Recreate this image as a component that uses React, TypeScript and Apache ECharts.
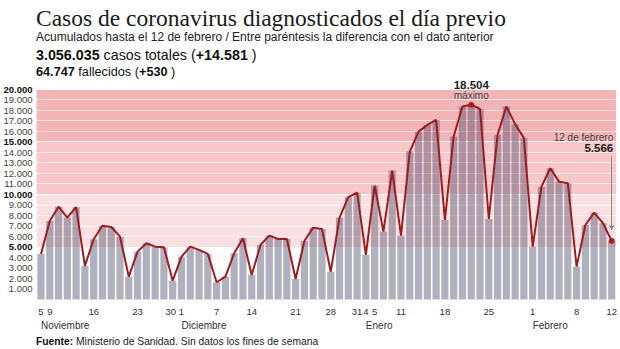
import React, { useEffect, useRef } from "react";
import * as echarts from "echarts";

// ---- data ----
const values = [
  4330, 7460, 8820, 7780, 8770, 3190, 5720, 7010, 6890, 5970,
  2170, 4550, 5340, 5020, 4960, 1790, 4070, 5020, 4710, 4330,
  1640, 2170, 4390, 5820, 2330, 5180, 6070, 5750, 5750, 1950,
  5560, 6830, 6700, 2640, 7780, 9720, 10150, 4230, 10820, 6450,
  12250, 6070, 14050, 15950, 16590, 17060, 7560, 15480, 18330, 18504,
  18110, 7650, 15640, 18330, 16660, 15330, 5020, 10720, 12470, 11200,
  11050, 3120, 7080, 8250, 7250, 5566,
];
const tickIndex = [0, 1, 6, 11, 15, 16, 20, 24, 29, 33, 36, 37, 38, 41, 46, 51, 56, 61, 65];
const tickText = ["5", "9", "16", "23", "30", "1", "7", "14", "21", "28", "31", "4", "5", "11", "18", "25", "1", "8", "12"];
const monthIndex = [0, 16, 37, 56];
const monthText = ["Noviembre", "Diciembre", "Enero", "Febrero"];
const yTicks = [0, 20000, 1000];
const totalCases = "3.056.035";
const totalCasesDiff = "+14.581";
const totalDeaths = "64.747";
const totalDeathsDiff = "+530";
const lastDateText = "12 de febrero";

const fmt = (v: number) => String(Math.round(v)).replace(/\B(?=(\d{3})+(?!\d))/g, ".");

const bandColors = [
  ...Array(5).fill("#ffffff"),
  ...Array(5).fill("#fbe0e1"),
  ...Array(5).fill("#f7c7c9"),
  ...Array(5).fill("#f3b4b6"),
];

export default function App() {
  const ref = useRef<HTMLDivElement>(null);
  useEffect(() => {
    const chart = echarts.init(ref.current!, null, { renderer: "svg" });
    const cats = values.map((_, i) => String(i));
    const lastIdx = values.length - 1;
    const tickMap: Record<number, string> = {};
    tickIndex.forEach((k, j) => (tickMap[k] = tickText[j]));
    const monthMap: Record<number, string> = {};
    monthIndex.forEach((k, j) => (monthMap[k] = monthText[j]));
    const sans = "Liberation Sans, Arial, sans-serif";

    chart.setOption({
      animation: false,
      grid: { left: 36.6, right: 3.3, top: 89, bottom: 49.5, containLabel: false },
      xAxis: [
        {
          type: "category",
          data: cats,
          boundaryGap: true,
          axisLine: { show: false },
          axisTick: { show: false },
          axisLabel: {
            interval: 0,
            margin: 7,
            fontSize: 9.5,
            fontFamily: sans,
            color: "#333",
            formatter: (_: string, i: number) => {
              const t = tickMap[i];
              if (t === undefined) return "";
              return i === 15 ? `{l|${t}}` : t;
            },
            rich: { l: { fontSize: 9.5, fontFamily: sans, color: "#333", padding: [0, 4, 0, 0] } },
          },
        },
        {
          type: "category",
          data: cats,
          position: "bottom",
          offset: 14,
          boundaryGap: true,
          axisLine: { show: false },
          axisTick: { show: false },
          axisLabel: {
            interval: 0,
            margin: 7,
            align: "left",
            fontSize: 10,
            fontFamily: sans,
            color: "#333",
            formatter: (_: string, i: number) => monthMap[i] ?? "",
          },
        },
      ],
      yAxis: {
        type: "value",
        min: yTicks[0],
        max: yTicks[1],
        interval: yTicks[2],
        axisLine: { show: false },
        axisTick: { show: false },
        axisLabel: {
          margin: 4,
          fontSize: 9.5,
          fontFamily: sans,
          color: "#444",
          formatter: (v: number) => (v === 0 ? "" : v % 5000 === 0 ? `{b|${fmt(v)}}` : fmt(v)),
          rich: { b: { fontWeight: "bold", color: "#111", fontSize: 9.5, fontFamily: sans } },
        },
        splitArea: { show: true, areaStyle: { color: bandColors } },
        splitLine: {
          show: true,
          lineStyle: {
            width: 1,
            color: ["rgba(255,255,255,0.95)", "rgba(255,255,255,0.55)", "rgba(255,255,255,0.55)", "rgba(255,255,255,0.55)", "rgba(255,255,255,0.55)"],
          },
        },
      },
      series: [
        {
          type: "bar",
          data: values,
          barCategoryGap: "18%",
          itemStyle: { color: "rgba(80,80,110,0.45)" },
          silent: true,
        },
        {
          type: "line",
          data: values,
          symbol: "none",
          lineStyle: { color: "#9c1c20", width: 2 },
          z: 5,
          markPoint: {
            symbol: "circle",
            symbolSize: 6,
            itemStyle: { color: "#b3222a" },
            data: [
              {
                type: "max",
                label: {
                  show: true,
                  position: "top",
                  distance: 1,
                  formatter: (p: any) => `{v|${fmt(p.value)}}\n{m|máximo}`,
                  rich: {
                    v: { fontWeight: "bold", fontSize: 11.5, color: "#222", lineHeight: 10.5, fontFamily: sans, align: "center" },
                    m: { fontSize: 10, color: "#444", lineHeight: 10.5, fontFamily: sans, align: "center" },
                  },
                },
              },
              { coord: [String(lastIdx), values[lastIdx]], label: { show: false } },
            ],
          },
          markLine: {
            silent: true,
            symbol: ["none", "arrow"],
            symbolSize: 5,
            lineStyle: { color: "#8a8a8a", width: 1, type: "solid" },
            label: { show: false },
            data: [[{ coord: [String(lastIdx), 13600] }, { coord: [String(lastIdx), 6600] }]],
          },
        },
      ],
    });

    const anchor = chart.convertToPixel({ xAxisIndex: 0, yAxisIndex: 0 }, [lastIdx, 13600]) as number[];
    const rightX = anchor[0] + 1.5;
    chart.setOption({
      graphic: [
        {
          type: "text",
          x: 36,
          y: 18,
          style: {
            text: "Casos de coronavirus diagnosticados el día previo",
            font: "23.5px 'Liberation Serif', 'Times New Roman', serif",
            fill: "#1a1a1a",
            verticalAlign: "middle",
          },
        },
        {
          type: "text",
          x: 36,
          y: 37,
          style: {
            text: "Acumulados hasta el 12 de febrero / Entre paréntesis la diferencia con el dato anterior",
            font: `12px ${sans}`,
            fill: "#222",
            verticalAlign: "middle",
          },
        },
        {
          type: "text",
          x: 36,
          y: 55,
          style: {
            text: `{b|${totalCases}} casos totales ({b|${totalCasesDiff}} )`,
            font: `14.3px ${sans}`,
            fill: "#111",
            verticalAlign: "middle",
            rich: { b: { fontWeight: "bold", fontSize: 14.3, fontFamily: sans, fill: "#111" } },
          },
        },
        {
          type: "text",
          x: 36,
          y: 72,
          style: {
            text: `{b|${totalDeaths}} fallecidos ({b|${totalDeathsDiff}} )`,
            font: `12.7px ${sans}`,
            fill: "#111",
            verticalAlign: "middle",
            rich: { b: { fontWeight: "bold", fontSize: 12.7, fontFamily: sans, fill: "#111" } },
          },
        },
        {
          type: "text",
          x: rightX,
          y: anchor[1] - 19,
          style: { text: lastDateText, font: `10px ${sans}`, fill: "#444", align: "right", verticalAlign: "middle" },
        },
        {
          type: "text",
          x: rightX,
          y: anchor[1] - 8,
          style: { text: fmt(values[lastIdx]), font: `bold 11.5px ${sans}`, fill: "#222", align: "right", verticalAlign: "middle" },
        },
        {
          type: "text",
          x: 36,
          y: 341,
          style: {
            text: "{b|Fuente:} Ministerio de Sanidad. Sin datos los fines de semana",
            font: `10.3px ${sans}`,
            fill: "#222",
            verticalAlign: "middle",
            rich: { b: { fontWeight: "bold", fontSize: 10.3, fontFamily: sans, fill: "#111" } },
          },
        },
      ],
    });
    return () => chart.dispose();
  }, []);
  return <div ref={ref} style={{ position: "fixed", left: 0, top: 0, width: 620, height: 349, background: "#fff" }} />;
}
